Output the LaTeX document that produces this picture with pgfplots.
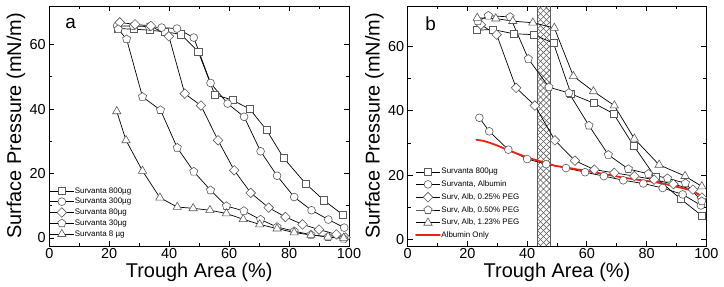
\documentclass[border=0pt]{standalone}
\usepackage{fontspec}
\setmainfont{Liberation Sans}
\usepackage{pgfplots}
\pgfplotsset{compat=1.18}
\usetikzlibrary{patterns,patterns.meta}
\definecolor{mkgray}{RGB}{90,90,90}
\definecolor{albred}{RGB}{238,32,20}
\pgfplotsset{
 myax/.style={
  scale only axis, anchor=south west, height=240bp,
  xmin=0, xmax=100, xtick={0,20,...,100}, ytick={0,20,40,60},
  minor x tick num=1, minor y tick num=1,
  tick align=inside, major tick length=5bp, minor tick length=3bp,
  axis line style={line width=0.8bp}, tick style={line width=0.8bp, black},
  /pgf/number format/assume math mode=true,
  ticklabel style={font=\fontsize{14.5}{16}\selectfont},
  xticklabel style={yshift=1bp},
  label style={font=\fontsize{20}{22}\selectfont},
  xlabel={Trough Area (\%)}, ylabel={Surface Pressure (mN/m)},
  xlabel style={at={(axis description cs:0.5,-0.131)}, anchor=base},
  ylabel style={at={(axis description cs:-0.094,0.5)}, anchor=base},
  legend cell align=left,
  legend image code/.code={\draw[mark repeat=2,mark phase=2,##1] plot coordinates {(0bp,0bp)(12bp,0bp)(24bp,0bp)};},
 },
 blk/.style={line width=0.7bp, black},
 sq/.style={blk, mark=square*, mark size=3.6bp, mark options={fill=white, draw=mkgray, line width=0.6bp}},
 ci/.style={blk, mark=*, mark size=3.9bp, mark options={fill=white, draw=mkgray, line width=0.6bp}},
 di/.style={blk, mark=square*, mark size=3.4bp, mark options={rotate=45, fill=white, draw=mkgray, line width=0.6bp}},
 pe/.style={blk, mark=pentagon*, mark size=4.3bp, mark options={fill=white, draw=mkgray, line width=0.6bp}},
 tr/.style={blk, mark=triangle*, mark size=4.8bp, mark options={fill=white, draw=mkgray, line width=0.6bp}},
}
\begin{document}
\begin{tikzpicture}
\useasboundingbox (0,0) rectangle (724bp,287bp);
% ---------------- panel a
\begin{axis}[myax, at={(49.3bp,41bp)}, width=299.7bp, ymin=-2.5, ymax=72,
  legend style={at={(axis description cs:0,0.03)}, anchor=south west, draw=none, fill=none,
    inner sep=0pt, font=\fontsize{8}{9}\selectfont, row sep=1.5bp,
    nodes={inner sep=0.6bp, text height=6bp, text depth=1.8bp}}]
\addplot[sq] coordinates {(22.8,65)(28.3,64.8)(33.5,64.5)(38.5,64)(44,63.2)(49.7,57.8)(55.2,44.5)(61.1,42.8)(66.9,40)(72.5,33.5)(78.2,24.8)(85.5,16.9)(91.6,11.7)(97.8,7.3)};
\addlegendentry{Survanta 800µg}
\addplot[ci] coordinates {(22.6,65.8)(28,65.8)(33.3,65.6)(37.5,65.3)(42.6,65)(48.2,62.2)(53.8,48.1)(59.5,41.7)(65,37.6)(70.5,26.9)(76,19.3)(81.7,12.7)(87.5,8.6)(93.1,5.7)(98.4,3.2)};
\addlegendentry{Survanta 300µg}
\addplot[di] coordinates {(23.5,66.9)(28.6,66.3)(33.9,65.8)(39.9,62.6)(45.2,44.8)(50.6,41.1)(56.3,30.3)(61.7,21)(67.2,14)(73.2,9.4)(78.8,6.5)(84.5,4.2)(90,2.6)(95.8,1.1)(98.8,0.1)};
\addlegendentry{Survanta 80µg}
\addplot[pe] coordinates {(23,64.8)(25.8,61.7)(31.1,43.8)(37.1,39.7)(42.7,28)(48.2,20.6)(53.8,14.8)(59.1,9.9)(64.9,8.4)(70.5,5.7)(76,3.4)(81.7,2.1)(87.3,1)(93,0.3)(98.2,-0.2)};
\addlegendentry{Survanta 30µg}
\addplot[tr] coordinates {(22.5,39.3)(25.6,30.3)(31.1,20.8)(36.9,12.5)(42.7,9.6)(48,9.2)(53.6,8.6)(59.1,7.6)(64.7,5.8)(70.2,4.2)(76,2.9)(81.7,1.7)(87.3,0.9)(93,0.4)(98.2,0)};
\addlegendentry{Survanta 8 µg}
\node[anchor=base west, font=\fontsize{19}{20}\selectfont] at (axis description cs:0.042,0.908) {a};
\end{axis}
% ---------------- panel b
\begin{axis}[myax, at={(407.7bp,41bp)}, width=298.6bp, ymin=-2, ymax=72.5,
  legend style={at={(axis description cs:0.024,0.025)}, anchor=south west, draw=none, fill=none,
    inner sep=0pt, font=\fontsize{8}{9}\selectfont, row sep=3.5bp,
    nodes={inner sep=0.6bp, text height=6bp, text depth=1.8bp}}]
\addplot[forget plot, draw=none, pattern={Lines[angle=45,distance=4.2bp,line width=0.55bp]}, pattern color=mkgray] coordinates {(43.4,-3)(47.9,-3)(47.9,75)(43.4,75)} -- cycle;
\addplot[forget plot, draw=mkgray, line width=0.6bp, pattern={Lines[angle=-45,distance=4.2bp,line width=0.55bp]}, pattern color=mkgray] coordinates {(43.4,-3)(47.9,-3)(47.9,75)(43.4,75)} -- cycle;
\addplot[sq] coordinates {(23.1,65)(28.5,65.2)(35.4,63.9)(42.1,63.6)(48.8,61)(54.7,45.2)(62.2,42.4)(68.9,39.1)(75.6,29.2)(83,19.3)(91.4,12.6)(98.5,7.4)};
\addlegendentry{Survanta 800µg}
\addplot[ci] coordinates {(24,37.8)(27.3,33.6)(33.7,27.9)(40,25)(46.4,23.4)(53,22.2)(59.4,20.9)(65.7,19.7)(72.2,18.4)(78.9,17.4)(85.4,16)(92.1,14)(98.2,10.6)};
\addlegendentry{Survanta, Albumin}
\addplot[di] coordinates {(24.5,66.7)(29.8,63.6)(36.3,47.1)(42.6,41.6)(49.3,30.8)(56,24.5)(62.5,21.7)(69.2,20.7)(75.9,19.7)(82.5,18.6)(89,17.2)(95.5,15.5)(98.5,13)};
\addlegendentry{Surv, Alb, 0.25\% PEG}
\addplot[pe] coordinates {(23.5,67.8)(27,69.5)(34.3,69.1)(40.4,56.1)(47.3,47.3)(54,45.5)(60.7,35.4)(67.2,26.3)(73.9,21.9)(80.6,20.4)(87,19)(93,17.5)(98.5,11.9)};
\addlegendentry{Surv, Alb, 0.50\% PEG}
\addplot[tr] coordinates {(23.3,68.8)(29.5,68.6)(35.2,67.8)(41.9,67.3)(49.1,65.7)(55.5,50.7)(62.2,46)(69.2,41.6)(75.9,31.3)(84.2,23.2)(92.9,19.7)(98.5,16.5)};
\addlegendentry{Surv, Alb, 1.23\%  PEG}
\addplot[draw=albred, line width=1.8bp, no markers, line join=round, line cap=round] coordinates {(23,31)(25.5,30.6)(27.6,30)(30,29.2)(31.5,28.6)(33.2,27.9)(35.5,27.1)(38,26.2)(41,25.2)(44.3,24.3)(47,23.6)(49.3,22.9)(53,22.4)(56.5,21.8)(60,21.3)(66,20.3)(71.7,19.3)(76,18.7)(80,18.2)(83,17.8)(86,17.3)(89,16.6)(91.5,16.1)(94,15.5)(96,14.8)(97.5,14)(98.5,13.3)};
\addlegendentry{Albumin Only}
\node[anchor=base west, font=\fontsize{19}{20}\selectfont] at (axis description cs:0.047,0.9) {b};
\end{axis}
\end{tikzpicture}
\end{document}
